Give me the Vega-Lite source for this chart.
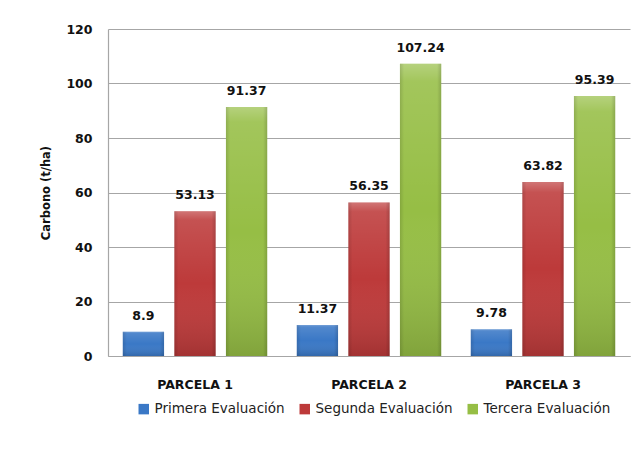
{
  "$schema": "https://vega.github.io/schema/vega-lite/v6.json",
  "autosize": "none",
  "width": 522,
  "height": 327,
  "padding": {"left": 108, "top": 29, "right": 11, "bottom": 93},
  "background": "white",
  "config": {
    "view": {"stroke": null},
    "font": "DejaVu Sans"
  },
  "data": {
    "values": [
      {"parcela": "PARCELA 1", "evaluacion": "Primera Evaluación", "carbono": 8.9},
      {"parcela": "PARCELA 1", "evaluacion": "Segunda Evaluación", "carbono": 53.13},
      {"parcela": "PARCELA 1", "evaluacion": "Tercera Evaluación", "carbono": 91.37},
      {"parcela": "PARCELA 2", "evaluacion": "Primera Evaluación", "carbono": 11.37},
      {"parcela": "PARCELA 2", "evaluacion": "Segunda Evaluación", "carbono": 56.35},
      {"parcela": "PARCELA 2", "evaluacion": "Tercera Evaluación", "carbono": 107.24},
      {"parcela": "PARCELA 3", "evaluacion": "Primera Evaluación", "carbono": 9.78},
      {"parcela": "PARCELA 3", "evaluacion": "Segunda Evaluación", "carbono": 63.82},
      {"parcela": "PARCELA 3", "evaluacion": "Tercera Evaluación", "carbono": 95.39}
    ]
  },
  "encoding": {
    "x": {
      "field": "parcela",
      "type": "nominal",
      "scale": {"paddingInner": 0.17, "paddingOuter": 0.085},
      "axis": {
        "title": null,
        "labelAngle": 0,
        "labelFont": "DejaVu Sans",
        "labelFontWeight": "bold",
        "labelFontSize": 12.5,
        "labelColor": "#111111",
        "labelPadding": 22,
        "ticks": false,
        "domainColor": "#a6a6a6",
        "domainWidth": 1.2
      }
    },
    "xOffset": {
      "field": "evaluacion",
      "type": "nominal",
      "scale": {"paddingInner": 0.2, "paddingOuter": 0}
    },
    "y": {
      "field": "carbono",
      "type": "quantitative",
      "scale": {"domain": [0, 120], "nice": false},
      "axis": {
        "title": "Carbono (t/ha)",
        "titleFont": "DejaVu Sans",
        "titleFontWeight": "bold",
        "titleFontSize": 11.5,
        "titleColor": "#111111",
        "titlePadding": 14,
        "values": [0, 20, 40, 60, 80, 100, 120],
        "labelFont": "DejaVu Sans",
        "labelFontWeight": "bold",
        "labelFontSize": 12.5,
        "labelColor": "#111111",
        "labelPadding": 16,
        "ticks": false,
        "grid": true,
        "gridColor": "#a6a6a6",
        "gridWidth": 1.2,
        "domain": true,
        "domainColor": "#a6a6a6",
        "domainWidth": 1.2
      }
    }
  },
  "layer": [
    {
      "mark": {"type": "bar"},
      "encoding": {
        "color": {
          "field": "evaluacion",
          "type": "nominal",
          "scale": {
            "domain": ["Primera Evaluación", "Segunda Evaluación", "Tercera Evaluación"],
            "range": ["#3a78c6", "#bd3a3a", "#96be45"]
          },
          "legend": {
            "title": null,
            "orient": "none",
            "legendX": 29,
            "legendY": 373,
            "direction": "horizontal",
            "symbolType": "square",
            "symbolSize": 110,
            "symbolStrokeWidth": 0,
            "labelFont": "DejaVu Sans",
            "labelFontSize": 13.5,
            "labelColor": "#222222",
            "labelOffset": 4,
            "columnPadding": 13
          }
        }
      }
    },
    {
      "mark": {
        "type": "bar",
        "fill": {
          "gradient": "linear",
          "x1": 0, "y1": 0, "x2": 0, "y2": 1,
          "stops": [
            {"offset": 0, "color": "rgba(255,255,255,0.30)"},
            {"offset": 0.06, "color": "rgba(255,255,255,0.12)"},
            {"offset": 0.5, "color": "rgba(255,255,255,0.0)"},
            {"offset": 1, "color": "rgba(0,0,0,0.14)"}
          ]
        }
      },
      "encoding": {}
    },
    {
      "mark": {
        "type": "bar",
        "fill": {
          "gradient": "linear",
          "x1": 0, "y1": 0, "x2": 1, "y2": 0,
          "stops": [
            {"offset": 0, "color": "rgba(0,0,0,0.12)"},
            {"offset": 0.1, "color": "rgba(0,0,0,0.0)"},
            {"offset": 0.9, "color": "rgba(0,0,0,0.0)"},
            {"offset": 1, "color": "rgba(0,0,0,0.15)"}
          ]
        }
      },
      "encoding": {}
    },
    {
      "mark": {
        "type": "text",
        "dy": -12,
        "baseline": "alphabetic",
        "font": "DejaVu Sans",
        "fontWeight": "bold",
        "fontSize": 12.5,
        "color": "#111111"
      },
      "encoding": {
        "text": {"field": "carbono", "type": "nominal"}
      }
    }
  ]
}
